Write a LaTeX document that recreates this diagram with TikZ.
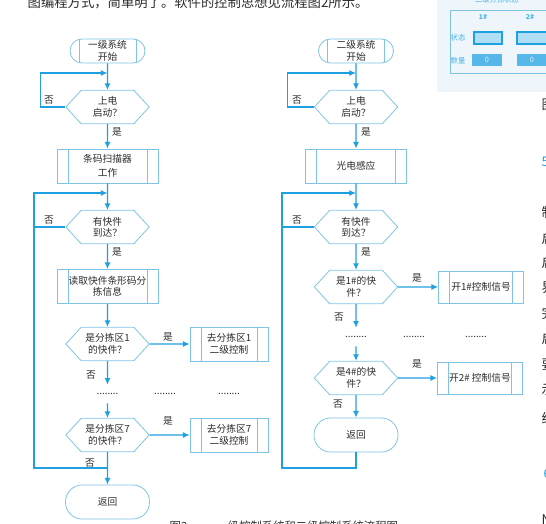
\documentclass[tikz,border=0pt]{standalone}
\usepackage{fontspec}
\setmainfont{Noto Sans CJK SC}
\usepackage{tikz}
\usetikzlibrary{arrows.meta,shapes.symbols}

\definecolor{flowblue}{HTML}{1EA0E1}
\definecolor{boxblue}{HTML}{7FC4E6}
\definecolor{inkgray}{HTML}{2B2B2B}
\definecolor{panelbg}{HTML}{EEF6FB}

\begin{document}
\begin{tikzpicture}[x=0.75pt,y=0.75pt,yscale=-1,xscale=1,
  every node/.style={text=inkgray,font=\fontsize{7.3}{8.6}\selectfont},
  flow/.style={draw=flowblue,line width=0.9pt,-{Latex[length=5pt,width=4.5pt]}},
  plain/.style={draw=flowblue,line width=0.9pt},
  sublines/.style={path picture={
    \draw[boxblue,line width=0.5pt] ([xshift=#1]path picture bounding box.north west) -- ([xshift=#1]path picture bounding box.south west)
      ([xshift=-#1]path picture bounding box.north east) -- ([xshift=-#1]path picture bounding box.south east);}},
  startterm/.style={draw=boxblue,line width=0.6pt,rounded corners=9pt,minimum width=56.25pt,minimum height=18pt,inner sep=0pt,align=center,sublines=6.75pt},
  endterm/.style={draw=boxblue,line width=0.6pt,rounded corners=12.5pt,minimum width=63pt,minimum height=25.5pt,inner sep=0pt,align=center},
  decision/.style={draw=boxblue,line width=0.6pt,shape=signal,signal to=west and east,signal pointer angle=95,minimum width=62.5pt,minimum height=25pt,inner sep=0pt,align=center},
  proc/.style={draw=boxblue,line width=0.6pt,minimum width=75.75pt,minimum height=25.5pt,inner sep=0pt,align=center,sublines=8.25pt},
  goal/.style={proc,minimum width=58.5pt},
  signalbox/.style={proc,minimum width=63.75pt,minimum height=24pt},
  etc/.style={minimum height=13.5pt,inner sep=0pt},
  panel/.style={text=flowblue!80,font=\fontsize{5.5}{6}\selectfont},
  page/.style={anchor=west,font=\fontsize{10}{12}\selectfont}
]
\useasboundingbox (0,0) rectangle (546,524);

%Page text
\draw (23,3) node [page] (toptext) {图编程方式，简单明了。软件的控制思想见流程图2所示。};
\draw (165,526) node [page,font=\fontsize{8.5}{10}\selectfont] (caption) {图2\hspace{22pt}一级控制系统和二级控制系统流程图};
\draw (537,105) node [page] (figref) {图};
\draw (537,162) node [page,text=flowblue] (sec5) {5};
\draw (537,212) node [page] (c1) {制};
\draw (537,238) node [page] (c2) {启};
\draw (537,262) node [page] (c3) {启};
\draw (537,288) node [page] (c4) {界};
\draw (537,313) node [page] (c5) {完};
\draw (537,338) node [page] (c6) {启};
\draw (537,365) node [page] (c7) {要};
\draw (537,390) node [page] (c8) {示};
\draw (537,418) node [page] (c9) {给};
\draw (539,474) node [page,text=flowblue] (sec6) {6};
\draw (537,520) node [page] (c10) {N};

%Panel
\fill[panelbg] (437,-2) rectangle (548,92);
\draw[boxblue,line width=0.5pt] (450,10) rectangle (550,73);
\draw (497,0) node [panel] (ptitle) {二级分拣状态};
\draw (483,17) node [panel,font=\bfseries\fontsize{5}{6}\selectfont] (p1h) {1\#};
\draw (530,17) node [panel,font=\bfseries\fontsize{5}{6}\selectfont] (p2h) {2\#};
\draw (458,38) node [panel] (pstate) {状态};
\draw (458,61) node [panel] (pcount) {数量};
\draw[flowblue,fill=flowblue!35,line width=0.8pt] (474,32) rectangle (502,44);
\draw[flowblue,fill=flowblue!35,line width=0.8pt] (517,32) rectangle (549,44);
\fill[flowblue!75] (472,54) rectangle (502,66);
\fill[flowblue!75] (517,54) rectangle (549,66);
\draw (487,60) node [panel,text=white!85!flowblue] (p1n) {0};
\draw (532,60) node [panel,text=white!85!flowblue] (p2n) {0};

%Level one
\draw (107.5,51) node [startterm] (s1) {一级系统\\开始};
\draw (107.5,107) node [decision] (d1) {上电\\启动？};
\draw (107.5,166) node [proc] (b1) {条码扫描器\\[2pt]工作};
\draw (107.5,227) node [decision] (d2) {有快件\\到达？};
\draw (107.5,286.5) node [proc] (b2) {读取快件条形码分\\拣信息};
\draw (107.5,344) node [decision] (d3) {是分拣区1\\的快件？};
\draw (229,344) node [goal] (g1) {去分拣区1\\二级控制};
\draw (107.5,394) node [etc] (dt1) {........};
\draw (165,394) node [etc] (dt2) {........};
\draw (229,394) node [etc] (dt3) {........};
\draw (107.5,435) node [decision] (d7) {是分拣区7\\的快件？};
\draw (229,435) node [goal] (g7) {去分拣区7\\二级控制};
\draw (107.5,502) node [endterm] (e1) {返回};

\coordinate (j1) at (107.5,73);
\coordinate (j2) at (107.5,193);
\coordinate (jb) at (107.5,468);
\coordinate (ll) at (34,468);

%Straight Lines
\draw[flow] (s1) -- (d1);
\draw[flow] (d1.west) -- ++(-25,0) |- (j1);
\draw[flow] (d1) -- (b1);
\draw[flow] (b1) -- (d2);
\draw[plain] (d2.west) -- ++(-32,0);
\draw[flow] (d2) -- (b2);
\draw[flow] (b2) -- (d3);
\draw[flow] (d3) -- (g1);
\draw[flow] (d3) -- (dt1);
\draw[flow] (dt1) -- (d7);
\draw[flow] (d7) -- (g7);
\draw[flow] (d7) -- (e1);
\draw[flow] (jb) -- (ll) |- (j2);

% Text Node
\draw (49,100) node (n1) {否};
\draw (117,132) node (y1) {是};
\draw (49,220) node (n2) {否};
\draw (117,252) node (y2) {是};
\draw (168,337) node (y3) {是};
\draw (91,375) node (n3) {否};
\draw (168,421) node (y4) {是};
\draw (90,463) node (n4) {否};

%Level two
\draw (356,51) node [startterm] (s2) {二级系统\\开始};
\draw (356,107) node [decision] (r1) {上电\\启动？};
\draw (356,166) node [proc] (p1) {光电感应};
\draw (356,227) node [decision] (r2) {有快件\\到达？};
\draw (356,287) node [decision] (r3) {是1\#的快\\件？};
\draw (481,287) node [signalbox] (k1) {开1\#控制信号};
\draw (356,337) node [etc] (rd1) {........};
\draw (414,337) node [etc] (rd2) {........};
\draw (476,337) node [etc] (rd3) {........};
\draw (356,378) node [decision] (r4) {是4\#的快\\件？};
\draw (480,378) node [signalbox] (k2) {开2\# 控制信号};
\draw (356,435) node [endterm] (e2) {返回};

\coordinate (j3) at (356,73);
\coordinate (j4) at (356,193);
\coordinate (rl) at (282,468);

%Straight Lines
\draw[flow] (s2) -- (r1);
\draw[flow] (r1.west) -- ++(-26,0) |- (j3);
\draw[flow] (r1) -- (p1);
\draw[flow] (p1) -- (r2);
\draw[plain] (r2.west) -- ++(-32,0);
\draw[flow] (r2) -- (r3);
\draw[flow] (r3) -- (k1);
\draw[flow] (r3) -- (rd1);
\draw[flow] (rd1) -- (r4);
\draw[flow] (r4) -- (k2);
\draw[flow] (r4) -- (e2);
\draw[flow] (e2.south) |- (rl) |- (j4);

% Text Node
\draw (297,100) node (n5) {否};
\draw (366,132) node (y5) {是};
\draw (297,220) node (n6) {否};
\draw (366,252) node (y6) {是};
\draw (417,278) node (y7) {是};
\draw (339,317) node (n7) {否};
\draw (417,364) node (y8) {是};
\draw (338,404) node (n8) {否};

\end{tikzpicture}
\end{document}
